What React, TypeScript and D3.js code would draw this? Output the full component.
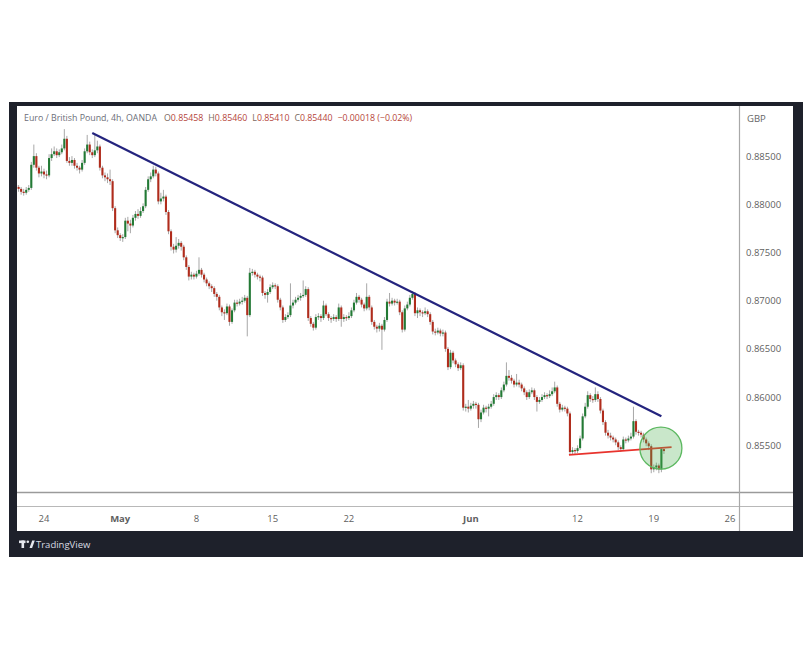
import React from 'react';
import * as d3 from 'd3';

// EUR/GBP 4h candles, values in pips (1 = 0.0001)
const opens = [
8820,8818,8816,8813,8812,8815,8817,8841,8850,8838,
8832,8834,8831,8830,8848,8852,8855,8851,8854,8858,
8868,8845,8843,8846,8840,8838,8836,8843,8855,8862,
8854,8851,8856,8860,8838,8830,8828,8826,8824,8796,
8773,8768,8765,8766,8783,8780,8778,8786,8790,8788,
8793,8798,8815,8826,8829,8836,8832,8803,8806,8808,
8792,8772,8756,8753,8757,8760,8756,8745,8735,8725,
8727,8725,8728,8732,8727,8722,8718,8715,8713,8707,
8704,8693,8688,8687,8694,8678,8690,8698,8697,8699,
8700,8703,8685,8729,8730,8727,8725,8724,8708,8706,
8709,8714,8716,8715,8701,8693,8680,8683,8685,8695,
8698,8701,8703,8705,8706,8712,8682,8676,8672,8683,
8684,8682,8695,8686,8682,8681,8683,8681,8693,8681,
8683,8682,8684,8690,8698,8704,8701,8696,8692,8704,
8693,8678,8673,8671,8674,8670,8680,8699,8697,8700,
8698,8699,8688,8670,8692,8696,8703,8707,8687,8690,
8688,8687,8689,8686,8678,8668,8667,8669,8666,8667,
8650,8631,8646,8638,8634,8630,8633,8589,8590,8588,
8591,8593,8592,8577,8584,8589,8588,8590,8593,8600,
8602,8600,8607,8613,8622,8620,8617,8613,8615,8613,
8609,8605,8600,8605,8607,8600,8595,8597,8600,8602,
8601,8603,8606,8610,8593,8587,8589,8588,8583,8543,
8545,8544,8547,8557,8580,8590,8602,8598,8597,8603,
8598,8586,8574,8563,8560,8558,8556,8553,8548,8546,
8556,8555,8557,8559,8575,8564,8563,8561,8556,8552,
8549,8525,8527,8529,8525,8546
];

const highs = [
8823,8820,8818,8816,8818,8820,8844,8862,8853,8840,
8840,8837,8835,8852,8858,8860,8858,8857,8862,8878,
8871,8849,8850,8848,8843,8840,8846,8858,8872,8865,
8857,8873,8866,8862,8840,8833,8832,8836,8826,8798,
8776,8770,8769,8786,8787,8784,8789,8793,8795,8797,
8801,8818,8829,8833,8840,8839,8834,8812,8815,8810,
8794,8774,8759,8766,8764,8762,8758,8747,8737,8730,
8729,8731,8745,8734,8729,8724,8720,8717,8715,8709,
8706,8695,8691,8697,8696,8692,8701,8701,8702,8704,
8706,8705,8734,8733,8732,8729,8727,8726,8710,8712,
8717,8719,8718,8717,8703,8695,8686,8688,8718,8701,
8704,8706,8708,8721,8715,8714,8684,8678,8686,8687,
8686,8700,8697,8688,8684,8686,8685,8697,8695,8686,
8685,8688,8693,8701,8708,8706,8703,8698,8718,8706,
8695,8680,8675,8677,8676,8683,8702,8708,8703,8702,
8702,8701,8690,8695,8699,8706,8710,8709,8693,8692,
8690,8693,8691,8688,8680,8671,8672,8671,8670,8669,
8652,8649,8648,8640,8636,8636,8635,8593,8597,8594,
8596,8595,8594,8587,8592,8591,8593,8596,8603,8605,
8604,8610,8616,8636,8628,8623,8619,8624,8618,8615,
8611,8607,8608,8610,8609,8602,8600,8603,8605,8604,
8607,8610,8616,8612,8595,8592,8591,8590,8585,8548,
8547,8550,8560,8583,8594,8606,8604,8601,8610,8606,
8600,8588,8576,8566,8563,8560,8558,8555,8550,8559,
8558,8560,8563,8590,8577,8566,8565,8563,8558,8554,
8551,8530,8532,8531,8548,8546
];

const lows = [
8815,8813,8810,8809,8810,8813,8815,8838,8835,8828,
8829,8827,8826,8828,8845,8850,8848,8849,8852,8856,
8843,8840,8840,8837,8835,8832,8834,8841,8853,8851,
8848,8849,8853,8835,8827,8824,8822,8820,8793,8770,
8765,8762,8761,8764,8772,8770,8776,8783,8785,8786,
8791,8796,8813,8823,8827,8829,8800,8800,8803,8789,
8769,8752,8749,8750,8754,8752,8742,8732,8721,8722,
8722,8723,8726,8724,8719,8715,8712,8709,8704,8700,
8690,8684,8680,8685,8674,8676,8688,8694,8695,8696,
8698,8663,8683,8726,8724,8722,8720,8705,8702,8698,
8707,8712,8712,8698,8690,8677,8678,8681,8683,8692,
8696,8699,8700,8703,8704,8679,8673,8669,8670,8680,
8678,8680,8684,8679,8677,8679,8678,8679,8673,8678,
8679,8680,8682,8688,8696,8698,8693,8689,8690,8690,
8675,8670,8667,8668,8649,8668,8678,8694,8695,8695,
8696,8685,8667,8668,8690,8694,8701,8684,8682,8684,
8683,8685,8683,8675,8665,8664,8665,8663,8663,8647,
8628,8629,8635,8631,8627,8628,8586,8585,8584,8586,
8588,8588,8568,8574,8582,8584,8580,8588,8591,8597,
8597,8598,8605,8611,8617,8614,8610,8611,8610,8606,
8602,8597,8598,8603,8597,8585,8593,8595,8598,8598,
8599,8601,8604,8590,8584,8585,8585,8580,8540,8541,
8540,8542,8545,8555,8578,8588,8595,8594,8595,8595,
8583,8571,8560,8557,8555,8553,8550,8545,8543,8544,
8552,8553,8555,8557,8561,8560,8558,8553,8549,8545,
8521,8522,8524,8521,8522,8541
];

const closes = [
8818,8816,8813,8812,8815,8817,8841,8850,8838,8832,
8834,8831,8830,8848,8852,8855,8851,8854,8858,8868,
8845,8843,8846,8840,8838,8836,8843,8855,8862,8854,
8851,8856,8860,8838,8830,8828,8826,8824,8796,8773,
8768,8765,8766,8783,8780,8778,8786,8790,8788,8793,
8798,8815,8826,8829,8836,8832,8803,8806,8808,8792,
8772,8756,8753,8757,8760,8756,8745,8735,8725,8727,
8725,8728,8732,8727,8722,8718,8715,8713,8707,8704,
8693,8688,8687,8694,8678,8690,8698,8697,8699,8700,
8703,8685,8729,8730,8727,8725,8724,8708,8706,8709,
8714,8716,8715,8701,8693,8680,8683,8685,8695,8698,
8701,8703,8705,8706,8712,8682,8676,8672,8683,8684,
8682,8695,8686,8682,8681,8683,8681,8693,8681,8683,
8682,8684,8690,8698,8704,8701,8696,8692,8704,8693,
8678,8673,8671,8674,8670,8680,8699,8697,8700,8698,
8699,8688,8670,8692,8696,8703,8707,8687,8690,8688,
8687,8689,8686,8678,8668,8667,8669,8666,8667,8650,
8631,8646,8638,8634,8630,8633,8589,8590,8588,8591,
8593,8592,8577,8584,8589,8588,8590,8593,8600,8602,
8600,8607,8613,8622,8620,8617,8613,8615,8613,8609,
8605,8600,8605,8607,8600,8595,8597,8600,8602,8601,
8603,8606,8610,8593,8587,8589,8588,8583,8543,8545,
8544,8547,8557,8580,8590,8602,8598,8597,8603,8598,
8586,8574,8563,8560,8558,8556,8553,8548,8546,8556,
8555,8557,8559,8575,8564,8563,8561,8556,8552,8549,
8525,8527,8529,8525,8546,8544
];

// time axis: candle index of each day label
const timeTickIdx = [11, 41, 71, 101, 131, 179, 221, 251, 281];
const timeTickLabels = ['24', 'May', '8', '15', '22', 'Jun', '12', '19', '26'];
const timeTickBold = [false, true, false, false, false, true, false, false, false];

// price axis
const priceTicks = [8850, 8800, 8750, 8700, 8650, 8600, 8550];
const priceTickLabels = ['0.88500', '0.88000', '0.87500', '0.87000', '0.86500', '0.86000', '0.85500'];

// drawings
const trendIdx = [30, 254];
const trendPrice = [8874, 8580];
const supportIdx = [217.6, 258];
const supportPrice = [8540, 8548];
const circleIdx = [253.8];
const circlePrice = [8547];

const headerTitle = 'Euro / British Pound, 4h, OANDA';
const headerVals = [
  ['O', '0.85458'],
  ['H', '0.85460'],
  ['L', '0.85410'],
  ['C', '0.85440'],
];
const headerChange = '\u22120.00018 (\u22120.02%)';

const FONT = '"Open Sans", "DejaVu Sans", sans-serif';

export default function App() {
  const x = d3.scaleLinear().domain([11, 281]).range([44, 730]);
  const y = d3.scaleLinear().domain([8501.5, 8902]).range([492, 106]);

  const up = '#237a35';
  const down = '#b02c1c';
  const bodyW = 2.1;

  const candles = closes.map((c, i) => {
    const o = opens[i];
    const h = highs[i];
    const l = lows[i];
    const cx = x(i);
    const top = y(Math.max(o, c));
    const bot = y(Math.min(o, c));
    const col = c >= o ? up : down;
    return (
      <g key={i}>
        <rect x={cx - 0.5} y={y(h)} width={1} height={Math.max(1, y(l) - y(h))} fill="#a8a8a8" />
        <rect x={cx - bodyW / 2} y={top} width={bodyW} height={Math.max(1.2, bot - top)} fill={col} />
      </g>
    );
  });

  const line = d3.line<number>().x((d, i) => x(trendIdx[i])).y((d) => y(d));
  const sline = d3.line<number>().x((d, i) => x(supportIdx[i])).y((d) => y(d));

  return (
    <svg width={812} height={660} style={{ position: 'absolute', left: 0, top: 0, background: '#fff' }}>
      <defs>
        <clipPath id="pane">
          <rect x={17} y={106} width={722} height={386} />
        </clipPath>
      </defs>
      {/* dark frame */}
      <rect x={9} y={102} width={794} height={455} fill="#1e212b" />
      <rect x={17} y={106} width={776} height={425} fill="#ffffff" />

      {/* pane separators */}
      <line x1={17} x2={793} y1={492.5} y2={492.5} stroke="#9a9a9a" strokeWidth={1.5} />
      <line x1={17} x2={793} y1={506.5} y2={506.5} stroke="#b8b8b8" strokeWidth={1} />
      <line x1={739.5} x2={739.5} y1={106} y2={531} stroke="#a8a8a8" strokeWidth={1.2} />

      {/* candles */}
      <g clipPath="url(#pane)">
        {candles}
        <path d={line(trendPrice) || ''} stroke="#24247e" strokeWidth={2.2} fill="none" />
        <path d={sline(supportPrice) || ''} stroke="#e8332d" strokeWidth={1.8} fill="none" />
        {circleIdx.map((ci, k) => (
          <circle key={k} cx={x(ci)} cy={y(circlePrice[k])} r={21} fill="#4caf50" fillOpacity={0.3} stroke="#5cb860" strokeWidth={1.3} />
        ))}
      </g>

      {/* header */}
      <text x={24} y={121} fontFamily={FONT} fontSize={8.8} fill="#6b6e78">
        <tspan>{headerTitle}</tspan>
        {headerVals.map(([k, v], i) => (
          <React.Fragment key={k}>
            <tspan dx={i === 0 ? 7 : 5} fill="#7a6a62">{k}</tspan>
            <tspan fill="#b5453a">{v}</tspan>
          </React.Fragment>
        ))}
        <tspan dx={5} fill="#b5453a">{headerChange}</tspan>
      </text>

      {/* price axis */}
      <text x={747} y={122} fontFamily={FONT} fontSize={9.5} fill="#666">GBP</text>
      {priceTicks.map((p, i) => (
        <text key={p} x={746} y={y(p) + 3.5} fontFamily={FONT} fontSize={9.5} fill="#5f5f5f">
          {priceTickLabels[i]}
        </text>
      ))}

      {/* time axis */}
      {timeTickIdx.map((ti, i) => (
        <text
          key={i}
          x={x(ti)}
          y={522}
          textAnchor="middle"
          fontFamily={FONT}
          fontSize={9.5}
          fontWeight={timeTickBold[i] ? 700 : 400}
          fill="#5f5f5f"
        >
          {timeTickLabels[i]}
        </text>
      ))}

      {/* TradingView logo */}
      <g fill="#e6e8ee">
        <rect x={19} y={540.5} width={6.5} height={2.6} />
        <rect x={21.5} y={540.5} width={2.6} height={7.5} />
        <circle cx={27.8} cy={541.8} r={1.3} />
        <polygon points="29.5,548 32.2,540.5 34.8,540.5 32.1,548" />
      </g>
      <text x={36} y={547.5} fontFamily={FONT} fontSize={9.5} fill="#d8dbe2">TradingView</text>
    </svg>
  );
}
